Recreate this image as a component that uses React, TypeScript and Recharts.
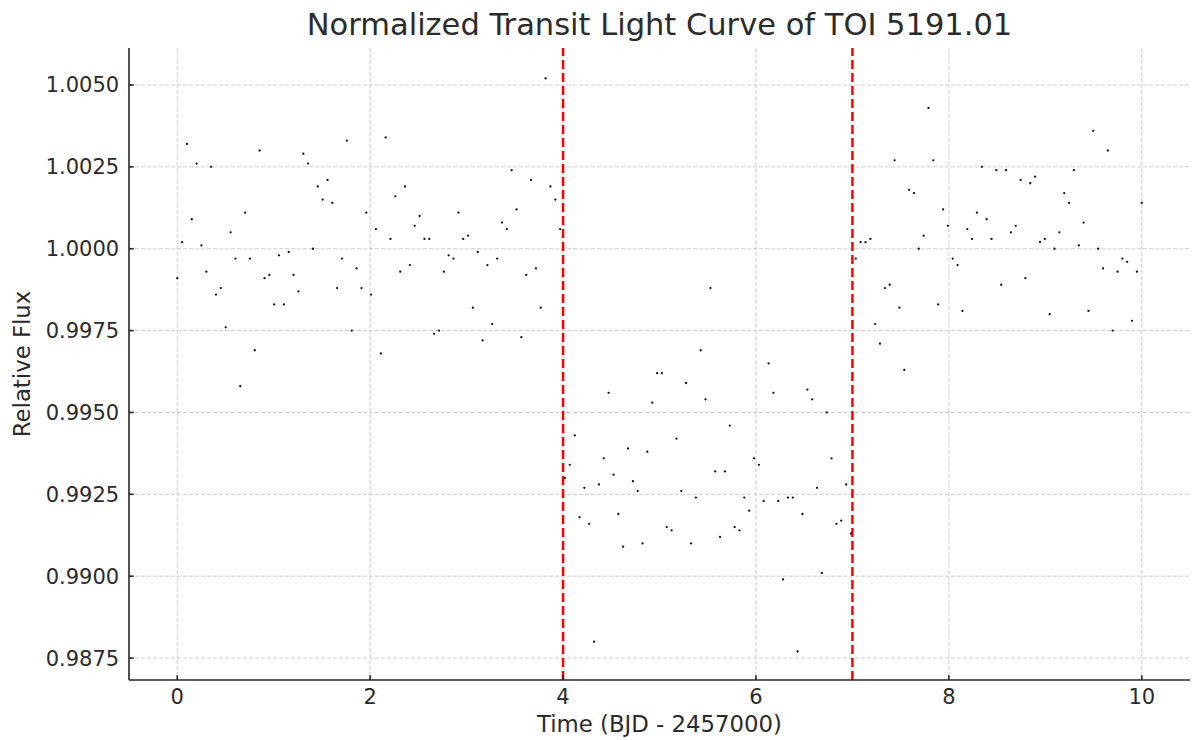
import React from 'react';
import { ScatterChart, Scatter, XAxis, YAxis, CartesianGrid, ReferenceLine, Label } from 'recharts';

const TITLE = 'Normalized Transit Light Curve of TOI 5191.01';
const X_LABEL = 'Time (BJD - 2457000)';
const Y_LABEL = 'Relative Flux';

const TIME = [
  0, 0.050, 0.101, 0.151, 0.201, 0.251, 0.302, 0.352, 0.402, 0.452,
  0.503, 0.553, 0.603, 0.653, 0.704, 0.754, 0.804, 0.854, 0.905, 0.955,
  1.005, 1.055, 1.106, 1.156, 1.206, 1.256, 1.307, 1.357, 1.407, 1.457,
  1.508, 1.558, 1.608, 1.658, 1.709, 1.759, 1.809, 1.859, 1.910, 1.960,
  2.010, 2.060, 2.111, 2.161, 2.211, 2.261, 2.312, 2.362, 2.412, 2.462,
  2.513, 2.563, 2.613, 2.663, 2.714, 2.764, 2.814, 2.864, 2.915, 2.965,
  3.015, 3.065, 3.116, 3.166, 3.216, 3.266, 3.317, 3.367, 3.417, 3.467,
  3.518, 3.568, 3.618, 3.668, 3.719, 3.769, 3.819, 3.869, 3.920, 3.970,
  4.020, 4.070, 4.121, 4.171, 4.221, 4.271, 4.322, 4.372, 4.422, 4.472,
  4.523, 4.573, 4.623, 4.673, 4.724, 4.774, 4.824, 4.874, 4.925, 4.975,
  5.025, 5.075, 5.126, 5.176, 5.226, 5.276, 5.327, 5.377, 5.427, 5.477,
  5.528, 5.578, 5.628, 5.678, 5.729, 5.779, 5.829, 5.879, 5.930, 5.980,
  6.030, 6.080, 6.131, 6.181, 6.231, 6.281, 6.332, 6.382, 6.432, 6.482,
  6.533, 6.583, 6.633, 6.683, 6.734, 6.784, 6.834, 6.884, 6.935, 6.985,
  7.035, 7.085, 7.136, 7.186, 7.236, 7.286, 7.337, 7.387, 7.437, 7.487,
  7.538, 7.588, 7.638, 7.688, 7.739, 7.789, 7.839, 7.889, 7.940, 7.990,
  8.040, 8.090, 8.141, 8.191, 8.241, 8.291, 8.342, 8.392, 8.442, 8.492,
  8.543, 8.593, 8.643, 8.693, 8.744, 8.794, 8.844, 8.894, 8.945, 8.995,
  9.045, 9.095, 9.146, 9.196, 9.246, 9.296, 9.347, 9.397, 9.447, 9.497,
  9.548, 9.598, 9.648, 9.698, 9.749, 9.799, 9.849, 9.899, 9.950, 10.000,
];

const FLUX = [
  0.9991, 1.0002, 1.0032, 1.0009, 1.0026, 1.0001, 0.9993, 1.0025, 0.9986, 0.9988,
  0.9976, 1.0005, 0.9997, 0.9958, 1.0011, 0.9997, 0.9969, 1.0030, 0.9991, 0.9992,
  0.9983, 0.9998, 0.9983, 0.9999, 0.9992, 0.9987, 1.0029, 1.0026, 1.0000, 1.0019,
  1.0015, 1.0021, 1.0014, 0.9988, 0.9997, 1.0033, 0.9975, 0.9994, 0.9988, 1.0011,
  0.9986, 1.0006, 0.9968, 1.0034, 1.0003, 1.0016, 0.9993, 1.0019, 0.9995, 1.0007,
  1.0010, 1.0003, 1.0003, 0.9974, 0.9975, 0.9993, 0.9998, 0.9997, 1.0011, 1.0003,
  1.0004, 0.9982, 0.9999, 0.9972, 0.9995, 0.9977, 0.9997, 1.0008, 1.0006, 1.0024,
  1.0012, 0.9973, 0.9992, 1.0021, 0.9994, 0.9982, 1.0052, 1.0019, 1.0015, 1.0006,
  0.9930, 0.9934, 0.9943, 0.9918, 0.9927, 0.9916, 0.9880, 0.9928, 0.9936, 0.9956,
  0.9931, 0.9919, 0.9909, 0.9939, 0.9929, 0.9926, 0.9910, 0.9938, 0.9953, 0.9962,
  0.9962, 0.9915, 0.9914, 0.9942, 0.9926, 0.9959, 0.9910, 0.9924, 0.9969, 0.9954,
  0.9988, 0.9932, 0.9912, 0.9932, 0.9946, 0.9915, 0.9914, 0.9924, 0.9920, 0.9936,
  0.9934, 0.9923, 0.9965, 0.9956, 0.9923, 0.9899, 0.9924, 0.9924, 0.9877, 0.9919,
  0.9957, 0.9954, 0.9927, 0.9901, 0.9950, 0.9936, 0.9916, 0.9917, 0.9928, 0.9913,
  0.9997, 1.0002, 1.0002, 1.0003, 0.9977, 0.9971, 0.9988, 0.9989, 1.0027, 0.9982,
  0.9963, 1.0018, 1.0017, 1.0000, 1.0004, 1.0043, 1.0027, 0.9983, 1.0012, 1.0007,
  0.9997, 0.9995, 0.9981, 1.0006, 1.0003, 1.0011, 1.0025, 1.0009, 1.0003, 1.0024,
  0.9989, 1.0024, 1.0005, 1.0007, 1.0021, 0.9991, 1.0020, 1.0022, 1.0002, 1.0003,
  0.9980, 1.0000, 1.0005, 1.0017, 1.0014, 1.0024, 1.0001, 1.0008, 0.9981, 1.0036,
  1.0000, 0.9994, 1.0030, 0.9975, 0.9993, 0.9997, 0.9996, 0.9978, 0.9993, 1.0014,
];

const TRANSIT_START = 4;
const TRANSIT_END = 7;
const X_TICKS = [0, 2, 4, 6, 8, 10];
const Y_TICKS = [0.9875, 0.99, 0.9925, 0.995, 0.9975, 1.0, 1.0025, 1.005];
const X_DOMAIN: [number, number] = [-0.5, 10.5];
const Y_DOMAIN: [number, number] = [0.98683, 1.00613];

const data = TIME.map((t, i) => ({ time: t, flux: FLUX[i] }));

const FONT = "'DejaVu Sans', sans-serif";
const TEXT = '#2b2b2b';
const SPINE = '#262626';

const Dot = (props: any) => {
  const { cx, cy } = props;
  if (cx == null || cy == null) return null;
  return <circle cx={cx} cy={cy} r={1.15} fill="#111" />;
};

export default function App() {
  return (
    <div style={{ position: 'absolute', left: 0, top: 0, width: 1193, height: 740, background: '#fff' }}>
      <div
        style={{
          position: 'absolute',
          left: 129,
          width: 1061,
          top: 10,
          textAlign: 'center',
          fontFamily: FONT,
          fontSize: 30.5,
          lineHeight: '30px',
          color: TEXT,
          whiteSpace: 'nowrap',
        }}
      >
        {TITLE}
      </div>
      <ScatterChart width={1193} height={740} margin={{ top: 48, right: 3, bottom: 30, left: 29 }}>
        <CartesianGrid stroke="#cccccc" strokeDasharray="4 2" strokeWidth={1} syncWithTicks />
        <XAxis
          type="number"
          dataKey="time"
          domain={X_DOMAIN}
          ticks={X_TICKS}
          allowDataOverflow
          height={30}
          tickSize={-4.7}
          tickMargin={13.5}
          stroke={SPINE}
          strokeWidth={1.6}
          tick={{ fill: TEXT, fontSize: 21, fontFamily: FONT }}
        >
          <Label value={X_LABEL} position="bottom" offset={6} style={{ fill: TEXT, fontSize: 22.8, fontFamily: FONT }} />
        </XAxis>
        <YAxis
          type="number"
          dataKey="flux"
          domain={Y_DOMAIN}
          ticks={Y_TICKS}
          allowDataOverflow
          width={100}
          tickSize={-4.7}
          tickMargin={14.5}
          stroke={SPINE}
          strokeWidth={1.6}
          tickFormatter={(v: number) => v.toFixed(4)}
          tick={{ fill: TEXT, fontSize: 21, fontFamily: FONT }}
        >
          <Label
            value={Y_LABEL}
            angle={-90}
            position="insideLeft"
            offset={-7}
            style={{ fill: TEXT, fontSize: 22.8, fontFamily: FONT, textAnchor: 'middle' }}
          />
        </YAxis>
        <Scatter data={data} shape={Dot} isAnimationActive={false} />
        <ReferenceLine x={TRANSIT_START} stroke="#ff0000" strokeWidth={2.5} strokeDasharray="9 4" />
        <ReferenceLine x={TRANSIT_END} stroke="#ff0000" strokeWidth={2.5} strokeDasharray="9 4" />
      </ScatterChart>
    </div>
  );
}
